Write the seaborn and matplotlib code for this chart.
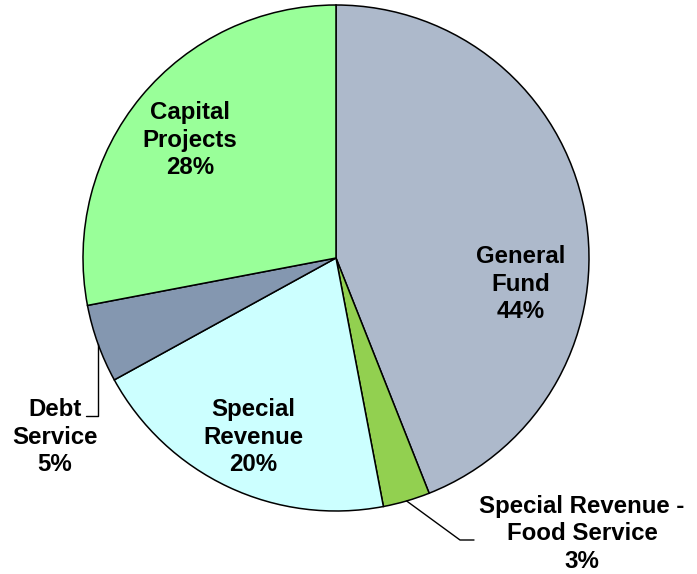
import numpy as np
import matplotlib
matplotlib.use("Agg")
import matplotlib.pyplot as plt
import seaborn as sns

# Fund shares, clockwise from 12 o'clock
funds = ["General Fund", "Special Revenue -\nFood Service", "Special Revenue",
         "Debt Service", "Capital Projects"]
shares = [44, 3, 20, 5, 28]
colors = ["#ADB9CB", "#92D050", "#CCFFFF", "#8497B0", "#99FF99"]

sns.set_theme(style="white")
plt.rcParams["font.family"] = ["Liberation Sans", "DejaVu Sans"]

W, H = 697, 574
fig = plt.figure(figsize=(W / 100, H / 100), dpi=100)
ax = fig.add_axes([0, 0, 1, 1])

cx, cy, R = 336, 258, 253  # pie centre and radius in pixels


def px(x, y):
    return (x - cx) / R, (cy - y) / R


wedges, _ = ax.pie(shares, colors=colors, startangle=90, counterclock=False,
                   radius=1.0, center=(0, 0),
                   wedgeprops=dict(edgecolor="black", linewidth=1.1))

ax.set_xlim(-cx / R, (W - cx) / R)
ax.set_ylim(-(H - cy) / R, cy / R)
ax.set_aspect("equal", adjustable="box")
ax.axis("off")

txt = dict(ha="center", va="center", fontsize=17.3, fontweight="bold",
           color="black", linespacing=1.27)

labels = [f"{name}\n{v}%" for name, v in zip(funds, shares)]
labels[0] = "General\nFund\n44%"
labels[2] = "Special\nRevenue\n20%"
labels[3] = "Debt\nService\n5%"
labels[4] = "Capital\nProjects\n28%"

label_px = [(521, 284), (582, 534), (253, 437), (55, 437), (190, 140)]
for lab, (lx, ly) in zip(labels, label_px):
    ax.text(*px(lx, ly), lab, **txt)


def mid_edge(w):
    ang = np.deg2rad((w.theta1 + w.theta2) / 2)
    return np.cos(ang), np.sin(ang)

# Leader line for Debt Service
x0, y0 = mid_edge(wedges[3])
xb, yb = x0, px(0, 416)[1]
xe = px(86, 0)[0]
ax.plot([x0, xb, xe], [y0, yb, yb], color="black", lw=1.0)

# Leader line for Food Service
x0, y0 = mid_edge(wedges[1])
x1, y1 = px(460, 540)
x2 = px(474, 0)[0]
ax.plot([x0, x1, x2], [y0, y1, y1], color="black", lw=1.0)

fig.savefig("out.png", dpi=100, facecolor="white")
